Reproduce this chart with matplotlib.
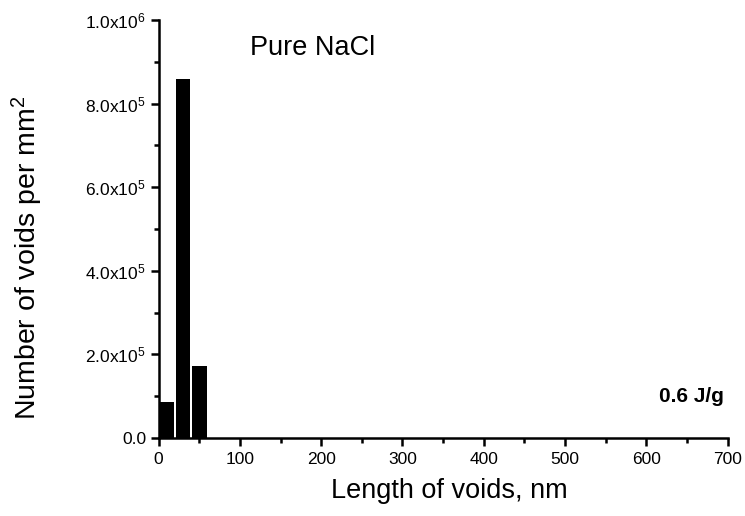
import numpy as np
import matplotlib
matplotlib.use('Agg')
import matplotlib.pyplot as plt
from matplotlib.ticker import MultipleLocator, FuncFormatter

plt.rcParams['font.family'] = ['Liberation Sans', 'DejaVu Sans']
plt.rcParams['mathtext.default'] = 'regular'

# void length bins (nm) and number of voids per mm^2
bin_centers = [10, 30, 50]
counts = [8.7e4, 8.59e5, 1.73e5]
bar_width = 18

fig = plt.figure(figsize=(7.45, 5.16), dpi=100)
ax = fig.add_axes([0.2128, 0.1512, 0.764, 0.810])

ax.bar(bin_centers, counts, width=bar_width, color='black')

ax.set_xlim(0, 700)
ax.set_ylim(0, 1.0e6)
ax.xaxis.set_major_locator(MultipleLocator(100))
ax.xaxis.set_minor_locator(MultipleLocator(50))
ax.yaxis.set_major_locator(MultipleLocator(2e5))
ax.yaxis.set_minor_locator(MultipleLocator(1e5))


def yfmt(v, pos):
    if abs(v) < 1:
        return '0.0'
    if v < 0:
        return ''
    exp = int(np.floor(np.log10(v) + 1e-9))
    return r'$%.1fx10^{%d}$' % (v / 10**exp, exp)


ax.yaxis.set_major_formatter(FuncFormatter(yfmt))

for s in ['top', 'right']:
    ax.spines[s].set_visible(False)
for s in ['left', 'bottom']:
    ax.spines[s].set_linewidth(1.8)

ax.tick_params(which='major', direction='out', length=6, width=1.8, labelsize=12.5)
ax.tick_params(which='minor', direction='out', length=3.5, width=1.8)
ax.tick_params(axis='x', pad=4)
ax.tick_params(axis='y', pad=3)

ax.set_xlabel('Length of voids, nm', fontsize=19.5)
ax.set_ylabel(r'Number of voids per mm$^2$', fontsize=20.5)
ax.xaxis.set_label_coords(0.51, -0.096)
ax.yaxis.set_label_coords(-0.2, 0.43)

ax.text(0.161, 0.933, 'Pure NaCl', transform=ax.transAxes, fontsize=19.5, va='center')
ax.text(0.994, 0.10, '0.6 J/g', transform=ax.transAxes, fontsize=15,
        fontweight='bold', ha='right', va='center')

fig.savefig('out.png', dpi=100)
